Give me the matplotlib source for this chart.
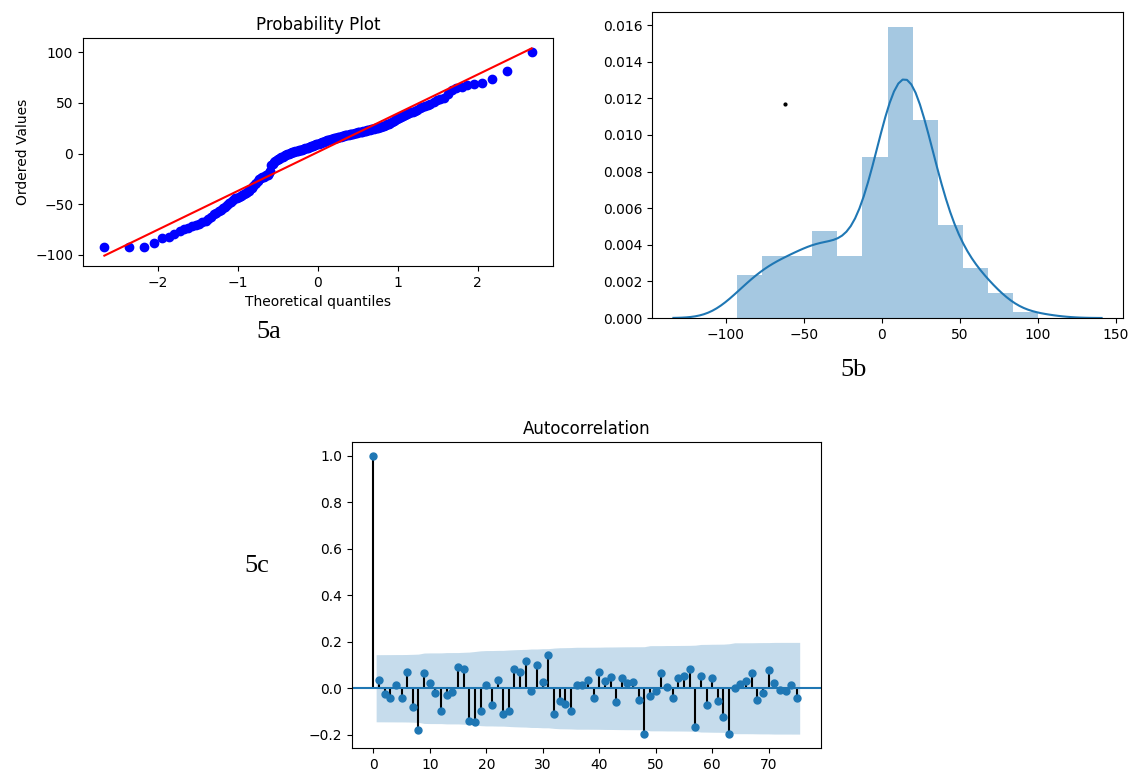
import numpy as np
import matplotlib
matplotlib.use("Agg")
import matplotlib.pyplot as plt
from statistics import NormalDist

resid = [
    -92.6, -92.5, -92.3, -88.1, -83.2, -82.7, -79.4,
    -76.0, -74.6, -73.1, -71.8, -70.5, -69.2, -67.7, -66.1, -64.2, -62.3,
    -59.8, -58.4, -57.1, -55.6, -54.0, -52.4, -50.8, -49.0, -47.3, -45.6,
    -44.2, -43.4, -42.5, -41.6, -40.7, -39.8, -38.9, -37.8, -36.6, -35.3,
    -33.8, -32.1, -30.4, -28.9,
    -26.8, -25.1, -24.2, -23.5, -22.9, -22.3, -21.6, -20.8, -19.6, -17.5,
    -11.2, -9.8, -8.6, -7.5, -6.6, -5.8, -5.0, -4.3, -3.6, -3.0,
    -2.4, -1.8, -1.2, -0.7, -0.2, 0.3, 0.7, 1.1, 1.5, 1.9,
    2.2, 2.5, 2.8, 3.1, 3.3, 3.5,
    3.9, 4.3, 4.7, 5.1, 5.5, 5.9, 6.3, 6.7, 7.1, 7.5,
    7.9, 8.3, 8.7, 9.1, 9.5, 9.9, 10.3, 10.7, 11.1, 11.5,
    11.9, 12.3, 12.7, 13.1, 13.4, 13.7, 14.0, 14.3, 14.6, 14.9,
    15.2, 15.5, 15.8, 16.1, 16.4, 16.7, 17.0, 17.3, 17.6, 17.9,
    18.2, 18.5, 18.8, 19.0, 19.2, 19.4, 19.6,
    19.9, 20.2, 20.5, 20.8, 21.1, 21.4, 21.7, 22.0, 22.3, 22.6,
    22.9, 23.2, 23.5, 23.8, 24.1, 24.5, 24.9, 25.3, 25.7, 26.1,
    26.6, 27.1, 27.6, 28.1, 28.7, 29.3, 30.0, 30.8, 31.7, 32.7,
    33.8, 35.0,
    36.2, 37.0, 37.9, 38.8, 39.7, 40.6, 41.5, 42.4, 43.4, 44.5,
    45.7, 46.9, 48.1, 49.4, 50.8,
    52.6, 53.8, 55.2, 58.5, 62.4, 64.6, 65.9, 67.3,
    68.6, 69.4, 73.6, 81.9,
    100.0,
]

# autocorrelation, lags 0..75
acf_vals = [
    1.0, 0.036, -0.026, -0.04, 0.012, -0.043, 0.072, -0.08, -0.18, 0.065,
    0.022, -0.019, -0.098, -0.027, -0.015, 0.09, 0.083, -0.14, -0.145, -0.098,
    0.015, -0.07, 0.036, -0.109, -0.098, 0.084, 0.068, 0.116, -0.014, 0.101,
    0.029, 0.145, -0.11, -0.055, -0.067, -0.098, 0.012, 0.012, 0.036, -0.043,
    0.072, 0.032, 0.048, -0.058, 0.043, 0.022, 0.029, -0.051, -0.196, -0.032,
    -0.014, 0.065, 0.007, -0.041, 0.043, 0.051, 0.084, -0.167, 0.051, -0.07,
    0.043, -0.055, -0.123, -0.196, 0.0, 0.017, 0.032, 0.065, -0.051, -0.019,
    0.08, 0.022, -0.007, -0.014, 0.012, -0.043,
]

n_bins = 12
stray_dot = (-62, 0.0117)   # little black dot in 5b

W, H = 1130, 771
fig = plt.figure(figsize=(W / 100, H / 100), dpi=100)

def px_axes(left, top, right, bottom):
    return fig.add_axes([left / W, 1 - bottom / H, (right - left) / W, (bottom - top) / H])

#####       5a: probability plot       #####
ax1 = px_axes(83, 38, 553, 266)
data = np.array(resid)
n = len(data)
# uniform order statistic medians (Filliben), then normal ppf
v = np.zeros(n)
v[-1] = 0.5 ** (1.0 / n)
v[0] = 1 - v[-1]
i = np.arange(2, n)
v[1:-1] = (i - 0.3175) / (n + 0.365)
osm = np.array([NormalDist().inv_cdf(p) for p in v])
osr = np.sort(data)
slope, intercept = np.polyfit(osm, osr, 1)
ax1.plot(osm, osr, "bo")
ax1.plot(osm, slope * osm + intercept, "r-")
ax1.set_title("Probability Plot")
ax1.set_xlabel("Theoretical quantiles")
ax1.set_ylabel("Ordered Values")
fig.text(269 / W, 1 - 332 / H, "5a", family="Liberation Serif", fontsize=19,
         ha="center", va="center")

#####       5b: histogram + kde       #####
ax2 = px_axes(652, 12, 1123, 318)
ax2.hist(data, bins=n_bins, density=True, color="C0", alpha=0.4)
bw = data.std(ddof=1) * n ** (-1 / 5)
grid = np.linspace(data.min() - 3 * bw, data.max() + 3 * bw, 100)
dens = np.exp(-0.5 * ((grid[:, None] - data[None, :]) / bw) ** 2).sum(axis=1)
dens /= n * bw * np.sqrt(2 * np.pi)
ax2.plot(grid, dens, color="C0", lw=1.5)
ax2.plot(*stray_dot, "k.", ms=4)
fig.text(854 / W, 1 - 370 / H, "5b", family="Liberation Serif", fontsize=19,
         ha="center", va="center")

#####       5c: autocorrelation       #####
ax3 = px_axes(352, 442, 821, 748)
acf = np.array(acf_vals)
lags = np.arange(len(acf))
varacf = np.ones(len(acf)) / n
varacf[0] = 0
varacf[2:] *= 1 + 2 * np.cumsum(acf[1:-1] ** 2)
conf = 1.96 * np.sqrt(varacf)
band_x = lags[1:].astype(float)
band_x[0] -= 0.5
band_x[-1] += 0.5
ax3.fill_between(band_x, -conf[1:], conf[1:], color="C0", alpha=0.25, lw=0)
ax3.vlines(lags, 0, acf, color="k", lw=1.5)
ax3.axhline(0, color="C0", lw=1.5)
ax3.plot(lags, acf, "o", color="C0", ms=5)
ax3.set_title("Autocorrelation")
fig.text(257 / W, 1 - 566 / H, "5c", family="Liberation Serif", fontsize=19,
         ha="center", va="center")

fig.savefig("out.png", dpi=100)
